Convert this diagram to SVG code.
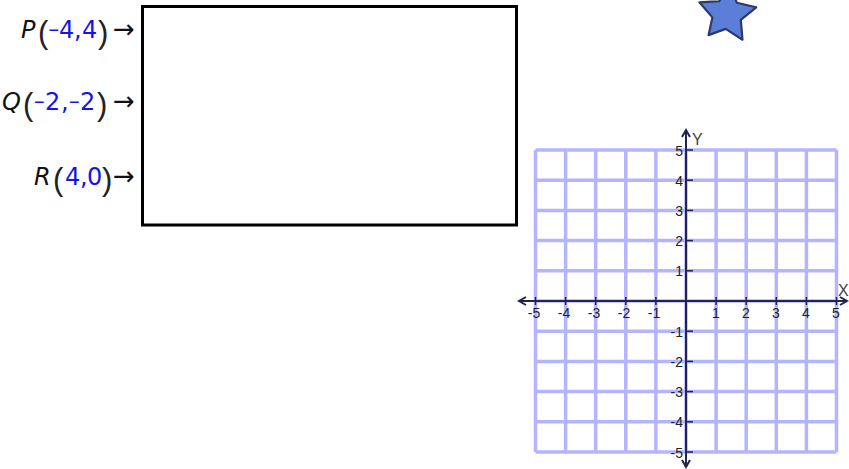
<svg xmlns="http://www.w3.org/2000/svg" width="849" height="469" viewBox="0 0 849 469">
<style>
.lbl{font-family:"DejaVu Sans",Verdana,sans-serif;font-size:24px;fill:#111}
.it{font-style:italic}
.num{fill:#1414e8}
.mn{font-family:"Liberation Sans",Arial,sans-serif;font-size:18px}
.par{font-family:"Liberation Sans",Arial,sans-serif;font-size:31px;fill:#222}
.arr{font-size:26px}
.grid line{stroke:#b4b4ff;stroke-width:3.5}
.axis{stroke:#23234d;stroke-width:2;fill:none}
.tick{stroke:#23234d;stroke-width:1.5}
.tl{font-family:"Liberation Sans",Arial,sans-serif;font-size:14px;fill:#222}
.al{font-family:"Liberation Sans",Arial,sans-serif;font-size:16px;fill:#444}
</style>
<rect width="849" height="469" fill="#fff"/>
<g id="labels">
  <g id="labelP">
    <text class="lbl"><tspan class="it" x="21" y="38">P</tspan><tspan class="par" x="38" y="43">(</tspan><tspan class="num mn" x="48.5" y="36">−</tspan><tspan class="num" x="59" y="38">4</tspan><tspan class="num" x="74" y="38">,</tspan><tspan class="num" x="82" y="38">4</tspan><tspan class="par" x="98" y="43">)</tspan><tspan class="arr" x="113" y="38">→</tspan></text>
  </g>
  <g id="labelQ">
    <text class="lbl"><tspan class="it" x="2" y="110">Q</tspan><tspan class="par" x="23" y="115">(</tspan><tspan class="num mn" x="34" y="108">−</tspan><tspan class="num" x="45" y="110">2</tspan><tspan class="num" x="61" y="110">,</tspan><tspan class="num mn" x="69" y="108">−</tspan><tspan class="num" x="80" y="110">2</tspan><tspan class="par" x="97" y="115">)</tspan><tspan class="arr" x="113" y="110">→</tspan></text>
  </g>
  <g id="labelR">
    <text class="lbl"><tspan class="it" x="34" y="185">R</tspan><tspan class="par" x="53" y="190">(</tspan><tspan class="num" x="65" y="185">4</tspan><tspan class="num" x="80" y="185">,</tspan><tspan class="num" x="87" y="185">0</tspan><tspan class="par" x="102" y="190">)</tspan><tspan class="arr" x="113" y="185">→</tspan></text>
  </g>
</g>
<g id="box">
  <rect x="142.5" y="6.5" width="374" height="218.5" fill="none" stroke="#000" stroke-width="3"/>
</g>
<g id="star">
  <polygon points="756.2,7.3 740.8,19.9 742.5,39.7 725.7,28.9 708.6,35.1 712.4,17.4 699.4,2.3 719.3,1.1 729.6,-15.9 736.8,2.7" fill="#5b7fd8" stroke="#2e3a66" stroke-width="2.2" stroke-linejoin="round"/>
</g>
<g id="grid" class="grid">
  <line x1="535.5" y1="150" x2="535.5" y2="452"/>
  <line x1="565.6" y1="150" x2="565.6" y2="452"/>
  <line x1="595.7" y1="150" x2="595.7" y2="452"/>
  <line x1="625.8" y1="150" x2="625.8" y2="452"/>
  <line x1="655.9" y1="150" x2="655.9" y2="452"/>
  <line x1="686" y1="150" x2="686" y2="452"/>
  <line x1="716.1" y1="150" x2="716.1" y2="452"/>
  <line x1="746.2" y1="150" x2="746.2" y2="452"/>
  <line x1="776.3" y1="150" x2="776.3" y2="452"/>
  <line x1="806.4" y1="150" x2="806.4" y2="452"/>
  <line x1="836.5" y1="150" x2="836.5" y2="452"/>
  <line x1="535.5" y1="150" x2="836.5" y2="150"/>
  <line x1="535.5" y1="180.2" x2="836.5" y2="180.2"/>
  <line x1="535.5" y1="210.4" x2="836.5" y2="210.4"/>
  <line x1="535.5" y1="240.6" x2="836.5" y2="240.6"/>
  <line x1="535.5" y1="270.8" x2="836.5" y2="270.8"/>
  <line x1="535.5" y1="301" x2="836.5" y2="301"/>
  <line x1="535.5" y1="331.2" x2="836.5" y2="331.2"/>
  <line x1="535.5" y1="361.4" x2="836.5" y2="361.4"/>
  <line x1="535.5" y1="391.6" x2="836.5" y2="391.6"/>
  <line x1="535.5" y1="421.8" x2="836.5" y2="421.8"/>
  <line x1="535.5" y1="452" x2="836.5" y2="452"/>
</g>
<g id="axes">
  <line class="axis" x1="519" y1="301" x2="847" y2="301"/>
  <polyline class="axis" points="526,297 519,301 526,305" stroke-width="1.5"/>
  <polyline class="axis" points="840,297 847,301 840,305" stroke-width="1.5"/>
  <line class="axis" x1="686" y1="130" x2="686" y2="467"/>
  <polyline class="axis" points="682,137 686,130 690,137" stroke-width="1.5"/>
  <polyline class="axis" points="682,460 686,467 690,460" stroke-width="1.5"/>
  <g id="ticks">
    <line class="tick" x1="535.5" y1="297" x2="535.5" y2="305"/>
    <line class="tick" x1="565.6" y1="297" x2="565.6" y2="305"/>
    <line class="tick" x1="595.7" y1="297" x2="595.7" y2="305"/>
    <line class="tick" x1="625.8" y1="297" x2="625.8" y2="305"/>
    <line class="tick" x1="655.9" y1="297" x2="655.9" y2="305"/>
    <line class="tick" x1="716.1" y1="297" x2="716.1" y2="305"/>
    <line class="tick" x1="746.2" y1="297" x2="746.2" y2="305"/>
    <line class="tick" x1="776.3" y1="297" x2="776.3" y2="305"/>
    <line class="tick" x1="806.4" y1="297" x2="806.4" y2="305"/>
    <line class="tick" x1="836.5" y1="297" x2="836.5" y2="305"/>
    <line class="tick" x1="686" y1="150" x2="693" y2="150"/>
    <line class="tick" x1="686" y1="180.2" x2="693" y2="180.2"/>
    <line class="tick" x1="686" y1="210.4" x2="693" y2="210.4"/>
    <line class="tick" x1="686" y1="240.6" x2="693" y2="240.6"/>
    <line class="tick" x1="686" y1="270.8" x2="693" y2="270.8"/>
    <line class="tick" x1="686" y1="331.2" x2="693" y2="331.2"/>
    <line class="tick" x1="686" y1="361.4" x2="693" y2="361.4"/>
    <line class="tick" x1="686" y1="391.6" x2="693" y2="391.6"/>
    <line class="tick" x1="686" y1="421.8" x2="693" y2="421.8"/>
    <line class="tick" x1="686" y1="452" x2="693" y2="452"/>
  </g>
  <g id="xlabels" class="tl" text-anchor="middle">
    <text x="534" y="318">-5</text>
    <text x="564" y="318">-4</text>
    <text x="594" y="318">-3</text>
    <text x="624" y="318">-2</text>
    <text x="654" y="318">-1</text>
    <text x="716" y="318">1</text>
    <text x="746" y="318">2</text>
    <text x="776" y="318">3</text>
    <text x="806" y="318">4</text>
    <text x="836" y="318">5</text>
  </g>
  <g id="ylabels" class="tl" text-anchor="end">
    <text x="683" y="156">5</text>
    <text x="683" y="186">4</text>
    <text x="683" y="216">3</text>
    <text x="683" y="246">2</text>
    <text x="683" y="276">1</text>
    <text x="683" y="337">-1</text>
    <text x="683" y="367">-2</text>
    <text x="683" y="397">-3</text>
    <text x="683" y="427">-4</text>
    <text x="683" y="458">-5</text>
  </g>
  <text class="al" x="692" y="145">Y</text>
  <text class="al" x="838" y="296">X</text>
</g>
</svg>
